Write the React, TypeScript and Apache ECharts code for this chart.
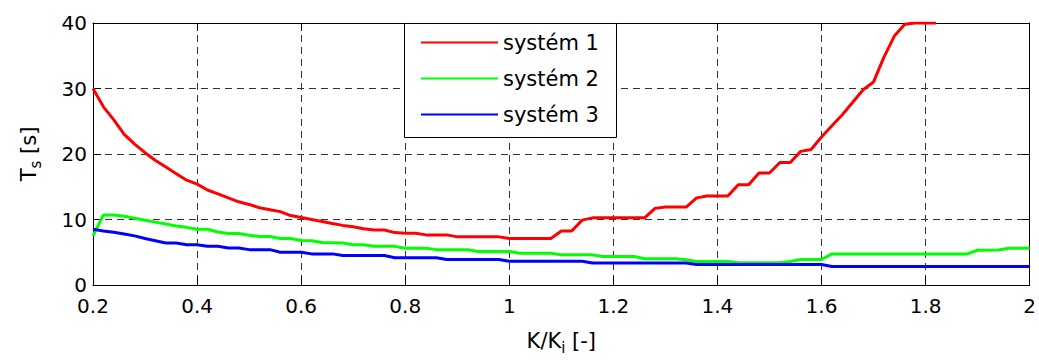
import React, { useEffect, useRef } from "react";
import * as echarts from "echarts";

const seriesNames = ["systém 1", "systém 2", "systém 3"];
const seriesColors = ["#ff0000", "#00ff00", "#0000ff"];

const system1: [number, number][] = [
  [0.20, 30.0], [0.22, 27.2], [0.24, 25.2], [0.26, 23.0], [0.28, 21.5], [0.30, 20.2],
  [0.32, 19.0], [0.34, 18.0], [0.36, 17.0], [0.38, 16.0], [0.40, 15.4], [0.42, 14.5],
  [0.44, 13.9], [0.46, 13.3], [0.48, 12.7], [0.50, 12.3], [0.52, 11.8], [0.54, 11.5],
  [0.56, 11.2], [0.58, 10.6], [0.60, 10.3], [0.62, 10.0], [0.64, 9.7], [0.66, 9.4],
  [0.68, 9.1], [0.70, 8.9], [0.72, 8.6], [0.74, 8.4], [0.76, 8.4], [0.78, 8.0],
  [0.80, 7.9], [0.82, 7.9], [0.84, 7.65], [0.88, 7.65], [0.90, 7.35], [0.98, 7.35],
  [1.00, 7.1], [1.08, 7.1], [1.10, 8.25], [1.12, 8.25], [1.14, 9.9], [1.16, 10.25],
  [1.26, 10.25], [1.28, 11.7], [1.30, 11.9], [1.34, 11.9], [1.36, 13.3], [1.38, 13.6],
  [1.42, 13.6], [1.44, 15.3], [1.46, 15.3], [1.48, 17.1], [1.50, 17.1], [1.52, 18.7],
  [1.54, 18.7], [1.56, 20.4], [1.58, 20.7], [1.60, 22.6], [1.62, 24.3], [1.64, 26.0],
  [1.66, 27.9], [1.68, 29.8], [1.70, 31.0], [1.72, 34.8], [1.74, 38.0], [1.76, 39.8],
  [1.78, 40.0], [1.82, 40.0],
];

const system2: [number, number][] = [
  [0.20, 7.5], [0.22, 10.7], [0.24, 10.7], [0.26, 10.5], [0.28, 10.2], [0.30, 9.9],
  [0.32, 9.6], [0.34, 9.3], [0.36, 9.0], [0.38, 8.8], [0.40, 8.5], [0.42, 8.5],
  [0.44, 8.1], [0.46, 7.85], [0.48, 7.85], [0.50, 7.6], [0.52, 7.4], [0.54, 7.4],
  [0.56, 7.1], [0.58, 7.1], [0.60, 6.8], [0.62, 6.75], [0.64, 6.5], [0.68, 6.4],
  [0.70, 6.15], [0.72, 6.15], [0.74, 5.9], [0.78, 5.9], [0.80, 5.6], [0.84, 5.6],
  [0.86, 5.4], [0.92, 5.4], [0.94, 5.1], [1.00, 5.1], [1.02, 4.85], [1.08, 4.85],
  [1.10, 4.6], [1.16, 4.6], [1.18, 4.35], [1.24, 4.35], [1.26, 4.0], [1.32, 4.0],
  [1.34, 3.85], [1.36, 3.6], [1.42, 3.6], [1.44, 3.4], [1.52, 3.4], [1.54, 3.6],
  [1.56, 3.9], [1.60, 3.9], [1.62, 4.75], [1.88, 4.75], [1.90, 5.3], [1.94, 5.35],
  [1.96, 5.6], [2.00, 5.6],
];

const system3: [number, number][] = [
  [0.20, 8.5], [0.22, 8.25], [0.24, 8.05], [0.26, 7.8], [0.28, 7.5], [0.30, 7.1],
  [0.32, 6.75], [0.34, 6.4], [0.36, 6.4], [0.38, 6.15], [0.40, 6.15], [0.42, 5.9],
  [0.44, 5.9], [0.46, 5.65], [0.48, 5.65], [0.50, 5.4], [0.54, 5.4], [0.56, 5.0],
  [0.60, 5.0], [0.62, 4.75], [0.66, 4.75], [0.68, 4.5], [0.76, 4.5], [0.78, 4.15],
  [0.86, 4.15], [0.88, 3.9], [0.98, 3.9], [1.00, 3.62], [1.14, 3.62], [1.16, 3.37],
  [1.34, 3.37], [1.36, 3.12], [1.60, 3.12], [1.62, 2.82], [2.00, 2.82],
];

const xMin = 0.2;
const xMax = 2;
const xStep = 0.2;
const yMin = 0;
const yMax = 40;
const yStep = 10;

const FONT = "DejaVu Sans";

export default function App() {
  const ref = useRef<HTMLDivElement>(null);

  useEffect(() => {
    if (!ref.current) return;
    const chart = echarts.init(ref.current, undefined, { renderer: "svg" });
    const gridLine = { show: true, lineStyle: { color: "#333", width: 1, type: [7, 5] as any } };
    const axisLine = { show: true, onZero: false, lineStyle: { color: "#000", width: 1 } };
    const tick = { show: true, inside: true, length: 8, lineStyle: { color: "#000", width: 1 } };
    const labelStyle = { color: "#000", fontFamily: FONT, fontSize: 20, lineHeight: 18 };

    chart.setOption({
      animation: false,
      backgroundColor: "#fff",
      grid: { left: 93, right: 7, top: 23, bottom: 72, containLabel: false },
      xAxis: [
        {
          type: "value",
          min: xMin,
          max: xMax,
          interval: xStep,
          position: "bottom",
          axisLine,
          axisTick: tick,
          splitLine: gridLine,
          axisLabel: {
            ...labelStyle,
            margin: 12,
            formatter: (v: number) => String(Number(v.toFixed(1))),
          },
          name: "K/K{sub|i} [-]",
          nameLocation: "middle",
          nameGap: 41,
          nameTextStyle: {
            color: "#000",
            fontFamily: FONT,
            fontSize: 21,
            rich: {
              sub: { fontFamily: FONT, fontSize: 15, color: "#000", padding: [14, 0, 0, 0] },
            },
          },
        },
        {
          type: "value",
          min: xMin,
          max: xMax,
          interval: xStep,
          position: "top",
          axisLine,
          axisTick: tick,
          splitLine: { show: false },
          axisLabel: { show: false },
        },
      ],
      yAxis: [
        {
          type: "value",
          min: yMin,
          max: yMax,
          interval: yStep,
          position: "left",
          axisLine,
          axisTick: tick,
          splitLine: gridLine,
          axisLabel: { ...labelStyle, margin: 6 },
          name: "T{sub|s} [s]",
          nameLocation: "middle",
          nameRotate: 90,
          nameGap: 50,
          nameTextStyle: {
            color: "#000",
            fontFamily: FONT,
            fontSize: 21,
            rich: {
              sub: { fontFamily: FONT, fontSize: 15, color: "#000", padding: [14, 0, 0, 0] },
            },
          },
        },
        {
          type: "value",
          min: yMin,
          max: yMax,
          interval: yStep,
          position: "right",
          axisLine,
          axisTick: tick,
          splitLine: { show: false },
          axisLabel: { show: false },
        },
      ],
      graphic: [
        {
          type: "rect",
          z: 5,
          shape: { x: 404.5, y: 23.5, width: 212, height: 114 },
          style: { fill: "#fff", stroke: "#000", lineWidth: 1 },
        },
      ],
      legend: {
        z: 6,
        orient: "vertical",
        left: 417,
        top: 30,
        padding: [2, 4, 2, 4],
        itemWidth: 77,
        itemHeight: 14,
        itemGap: 15,
        icon: "path://M0,6 L77,6 L77,8 L0,8 Z",
        textStyle: { color: "#000", fontFamily: FONT, fontSize: 21 },
        data: seriesNames,
      },
      series: [system1, system2, system3].map((d, i) => ({
        name: seriesNames[i],
        type: "line",
        xAxisIndex: 0,
        yAxisIndex: 0,
        data: d,
        symbol: "none",
        showSymbol: false,
        clip: true,
        lineStyle: { color: seriesColors[i], width: 3 },
        itemStyle: { color: seriesColors[i] },
      })),
    });

    return () => chart.dispose();
  }, []);

  return (
    <div
      ref={ref}
      style={{ position: "fixed", left: 0, top: 0, width: 1039, height: 360 }}
    />
  );
}
